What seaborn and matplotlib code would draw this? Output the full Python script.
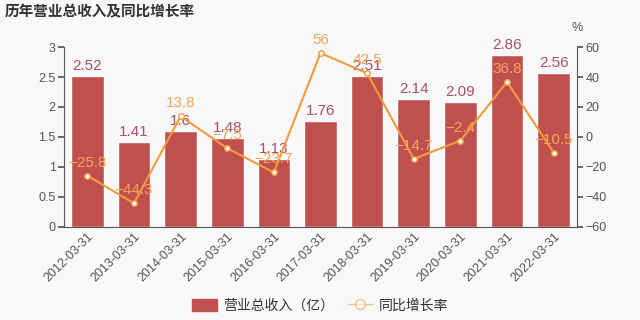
import matplotlib
matplotlib.use("Agg")
import matplotlib.pyplot as plt
import seaborn as sns
import pandas as pd
import numpy as np

categories = ["2012-03-31", "2013-03-31", "2014-03-31", "2015-03-31", "2016-03-31",
              "2017-03-31", "2018-03-31", "2019-03-31", "2020-03-31", "2021-03-31", "2022-03-31"]
revenue = [2.52, 1.41, 1.6, 1.48, 1.13, 1.76, 2.51, 2.14, 2.09, 2.86, 2.56]
growth = [-25.8, -44.3, 13.8, -7.5, -23.7, 56, 42.5, -14.7, -2.4, 36.8, -10.5]
rev_labels = ["2.52", "1.41", "1.6", "1.48", "1.13", "1.76", "2.51", "2.14", "2.09", "2.86", "2.56"]
gr_labels = ["−25.8", "−44.3", "13.8", "−7.5", "−23.7", "56", "42.5", "−14.7", "−2.4", "36.8", "−10.5"]

sns.set_theme(style="white")
plt.rcParams['font.family'] = ['Liberation Sans', 'Noto Sans CJK SC', 'DejaVu Sans']
plt.rcParams['axes.unicode_minus'] = True

BG = "#f8f8f8"
BAR = "#c0504d"
LINE = "#f39a3e"
BARTXT = "#a9506a"
LINETXT = "#f5a55a"
AX = "#555555"

fig = plt.figure(figsize=(6.4, 3.2), dpi=100, facecolor=BG)
ax = fig.add_axes([0.1, 0.291, 0.8016, 0.562])
ax.set_facecolor(BG)

df = pd.DataFrame({"cat": categories, "rev": revenue, "gr": growth, "x": np.arange(len(categories))})
sns.barplot(data=df, x="cat", y="rev", color=BAR, saturation=1, width=0.7, ax=ax, zorder=2)
ax.set_ylim(0, 3)
ax.set_yticks(np.arange(0, 3.01, 0.5))
ax.set_yticklabels(["0", "0.5", "1", "1.5", "2", "2.5", "3"])
ax.set_xlim(-0.5, len(categories) - 0.5)
ax.set_xlabel("")
ax.set_ylabel("")

# category labels at centers (minor), ticks at boundaries (major)
ax.set_xticks(np.arange(-0.5, len(categories), 1.0))
ax.set_xticklabels([])
ax.set_xticks(np.arange(len(categories)), minor=True)
ax.set_xticklabels(categories, minor=True, rotation=45, ha="right", rotation_mode="anchor",
                   fontsize=9, color=AX)
ax.tick_params(axis="x", which="major", length=4, color=AX, direction="out")
ax.tick_params(axis="x", which="minor", length=0, pad=3)
ax.tick_params(axis="y", length=4, color=AX, labelsize=9, labelcolor=AX, direction="out", pad=2)
for s in ["top", "right"]:
    ax.spines[s].set_visible(False)
for s in ["left", "bottom"]:
    ax.spines[s].set_color(AX)
    ax.spines[s].set_linewidth(0.8)

for i, v in enumerate(revenue):
    ax.text(i, v + 0.05, rev_labels[i], ha="center", va="bottom", fontsize=11, color=BARTXT, zorder=5)

ax2 = ax.twinx()
sns.lineplot(data=df, x="x", y="gr", ax=ax2, color=LINE, linewidth=1.5, marker="o",
             markersize=4, markerfacecolor="white", markeredgecolor=LINE, markeredgewidth=1, zorder=4)
ax2.set_ylim(-60, 60)
ax2.set_yticks(np.arange(-60, 61, 20))
ax2.set_yticklabels(["−60", "−40", "−20", "0", "20", "40", "60"])
ax2.set_xlim(-0.5, len(categories) - 0.5)
ax2.set_xlabel("")
ax2.set_ylabel("")
ax2.tick_params(axis="y", length=4, color=AX, labelsize=9, labelcolor=AX, direction="out", pad=2)
for s in ["top", "left", "bottom"]:
    ax2.spines[s].set_visible(False)
ax2.spines["right"].set_color(AX)
ax2.spines["right"].set_linewidth(0.8)
ax2.text(1.0, 1.07, "%", transform=ax2.transAxes, ha="center", va="bottom", fontsize=9, color=AX)

for i, v in enumerate(growth):
    ax2.text(i, v + 4, gr_labels[i], ha="center", va="bottom", fontsize=11, color=LINETXT, zorder=6)

fig.text(0.008, 0.962, "历年营业总收入及同比增长率", ha="left", va="center", fontsize=10.5,
         fontweight="bold", color="#333333")

# legend
from matplotlib.patches import Patch
from matplotlib.lines import Line2D
handles = [Patch(facecolor=BAR, edgecolor=BAR, label="营业总收入（亿）"),
           Line2D([0], [0], color=LINE, marker="o", markerfacecolor="white", markeredgecolor=LINE,
                  markersize=7, linewidth=1, alpha=0.6, label="同比增长率")]
fig.legend(handles=handles, loc="center", bbox_to_anchor=(0.5, 0.045), ncol=2, frameon=False,
           fontsize=10, handlelength=1.8, handleheight=1.0, columnspacing=1.0, handletextpad=0.4,
           labelcolor="#333333")

fig.savefig("out.png", dpi=100, facecolor=BG)
